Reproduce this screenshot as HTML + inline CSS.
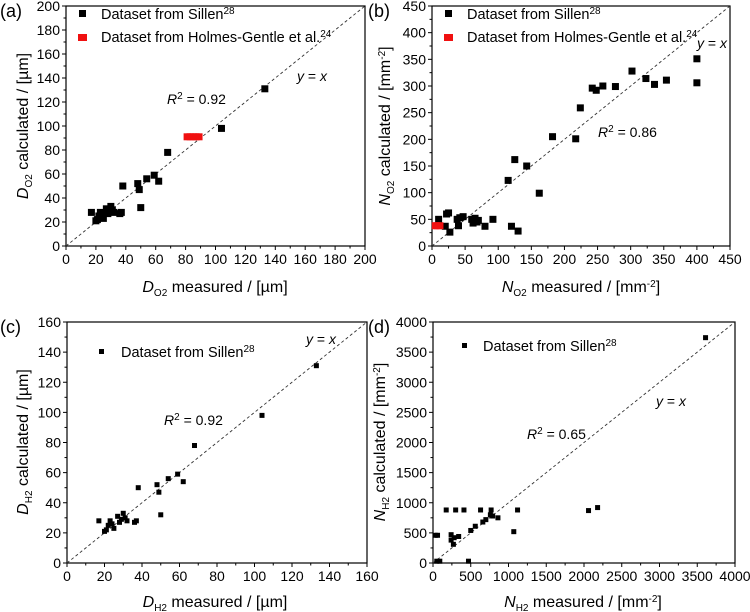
<!DOCTYPE html>
<html><head><meta charset="utf-8">
<style>
html,body{margin:0;padding:0;background:#fff;}
svg{display:block;font-family:"Liberation Sans",Arial,sans-serif;}
</style></head>
<body>
<svg id="fig" width="750" height="612" viewBox="0 0 750 612" xmlns="http://www.w3.org/2000/svg"></svg>
<script>
// ---- Data ----
const aBlackX=[17,20,21,22,23,24,25,27,28,29,30,31,32,36,37,38,48,49,50,54,59,62,68,104,133];
const aBlackY=[28,21,22,25,28,26,23,31,27,29,33,30,28,27,28,50,52,47,32,56,59,54,78,98,131];
const aRedX=[81,83,85,87,89];
const aRedY=[91,91,91,91,91];
const bBlackX=[10,20,22,25,27,38,40,42,47,60,62,65,68,70,80,92,115,120,125,130,143,162,182,217,224,242,248,258,277,302,323,336,354,400,400];
const bBlackY=[50,37,60,62,26,50,38,53,55,50,43,52,45,48,37,50,123,37,162,28,150,99,205,201,259,296,292,300,299,328,314,303,311,351,306];
const bRedX=[5,8,12];
const bRedY=[38,38,38];
const cBlackX=[17,20,21,22,23,24,25,27,28,29,30,31,32,36,37,38,48,49,50,54,59,62,68,104,133];
const cBlackY=[28,21,22,25,28,26,23,31,27,29,33,30,28,27,28,50,52,47,32,56,59,54,78,98,131];
const dBlackX=[30,60,50,90,175,240,240,270,280,300,340,410,470,500,560,630,660,700,760,770,790,860,1070,1120,2060,2180,3610];
const dBlackY=[460,460,30,30,880,470,380,310,420,880,440,880,30,540,610,880,680,720,800,880,780,750,520,880,870,920,3740];
const aTicks=[0,20,40,60,80,100,120,140,160,180,200];
const bTicks=[0,50,100,150,200,250,300,350,400,450];
const cTicks=[0,20,40,60,80,100,120,140,160];
const dTicks=[0,500,1000,1500,2000,2500,3000,3500,4000];

const NS="http://www.w3.org/2000/svg";
const svg=document.getElementById('fig');
function mk(tag,attrs,parent){const e=document.createElementNS(NS,tag);for(const k in attrs)e.setAttribute(k,attrs[k]);(parent||svg).appendChild(e);return e;}

function panel(o){
  const g=mk('g',{});
  
  
  const sx=v=>o.L+(v-o.min)/(o.max-o.min)*(o.R-o.L);
  const sy=v=>o.B-(v-o.min)/(o.max-o.min)*(o.B-o.T);
  const fr=mk('rect',{x:o.L,y:o.T,width:o.R-o.L,height:o.B-o.T,fill:'none',stroke:'#000','stroke-width':1.2},g);
  
  
  const dl=mk('line',{x1:sx(o.min),y1:sy(o.min),x2:sx(o.max),y2:sy(o.max),stroke:'#333','stroke-width':0.9,'stroke-dasharray':'3,2.5'},g);
  
  
  const t=o.ticks, step=t[1]-t[0];
  for(let i=0;i<t.length;i++){
    const v=t[i];
    mk('line',{x1:sx(v),y1:o.B,x2:sx(v),y2:o.B+4,stroke:'#000','stroke-width':1},g);
    mk('line',{x1:o.L,y1:sy(v),x2:o.L-4,y2:sy(v),stroke:'#000','stroke-width':1},g);
    if(i<t.length-1){
      const m=v+step/2;
      mk('line',{x1:sx(m),y1:o.B,x2:sx(m),y2:o.B+2.5,stroke:'#000','stroke-width':1},g);
      mk('line',{x1:o.L,y1:sy(m),x2:o.L-2.5,y2:sy(m),stroke:'#000','stroke-width':1},g);
    }
    const xl=mk('text',{x:sx(v),y:o.B+18,'font-size':14,'text-anchor':'middle'},g);
    xl.textContent=v;
    
    
    const yl=mk('text',{x:o.L-6,y:sy(v)+5,'font-size':14,'text-anchor':'end'},g);
    yl.textContent=v;
    
    
  }
  const ms=o.ms;
  for(let i=0;i<o.bx.length;i++){
    const r=mk('rect',{x:sx(o.bx[i])-ms/2,y:sy(o.by[i])-ms/2,width:ms,height:ms,fill:'#000'},g);
    
    
  }
  if(o.rx){
    for(let i=0;i<o.rx.length;i++){
      const r=mk('rect',{x:sx(o.rx[i])-ms/2,y:sy(o.ry[i])-ms/2,width:ms,height:ms,fill:'#f01010'},g);
      
      
    }
  }
  return g;
}
function html(g,x,y,content,size,anchor,name,rot){
  const tx=mk('text',{x:x,y:y,'font-size':size,'text-anchor':anchor||'start'},g);
  if(rot) tx.setAttribute('transform','rotate(-90 '+x+' '+y+')');
  tx.innerHTML=content;
  
  
  return tx;
}
const LF=14.5, AF=14, TF=16, PF=18;

const ga=panel({name:'panel-a',L:66,R:365,T:6,B:246,min:0,max:200,ticks:aTicks,bx:aBlackX,by:aBlackY,rx:aRedX,ry:aRedY,ms:7});
html(ga,0,17,'(a)',PF,'start','panel-label-a');
mk('rect',{x:79,y:10,width:7,height:7,fill:'#000'},ga);
html(ga,101,19,'Dataset from Sillen<tspan font-size="10" dy="-5">28</tspan>',LF,'start','legend-entry-sillen');
mk('rect',{x:78,y:34,width:9,height:7,fill:'#f01010'},ga);
html(ga,101,42,'Dataset from Holmes-Gentle et al.<tspan font-size="10" dy="-5">24</tspan>',LF,'start','legend-entry-holmes-gentle');
html(ga,297,81,'<tspan font-style="italic">y</tspan> = <tspan font-style="italic">x</tspan>',AF,'start','y-equals-x-label');
html(ga,167,104,'<tspan font-style="italic">R</tspan><tspan font-size="10" dy="-5">2</tspan><tspan dy="5"> = 0.92</tspan>',AF,'start','r-squared-label');
html(ga,215,292,'<tspan font-style="italic">D</tspan><tspan font-size="10" dy="4">O2</tspan><tspan dy="-4"> measured / [µm]</tspan>',TF,'middle','x-axis-title');
html(ga,28,126,'<tspan font-style="italic">D</tspan><tspan font-size="10" dy="4">O2</tspan><tspan dy="-4"> calculated / [µm]</tspan>',TF,'middle','y-axis-title',true);

const gb=panel({name:'panel-b',L:432,R:730,T:6,B:246,min:0,max:450,ticks:bTicks,bx:bBlackX,by:bBlackY,rx:bRedX,ry:bRedY,ms:7});
html(gb,368,17,'(b)',PF,'start','panel-label-b');
mk('rect',{x:445,y:10,width:7,height:7,fill:'#000'},gb);
html(gb,467,19,'Dataset from Sillen<tspan font-size="10" dy="-5">28</tspan>',LF,'start','legend-entry-sillen');
mk('rect',{x:444,y:34,width:9,height:7,fill:'#f01010'},gb);
html(gb,467,42,'Dataset from Holmes-Gentle et al.<tspan font-size="10" dy="-5">24</tspan>',LF,'start','legend-entry-holmes-gentle');
html(gb,697,48,'<tspan font-style="italic">y</tspan> = <tspan font-style="italic">x</tspan>',AF,'start','y-equals-x-label');
html(gb,598,137,'<tspan font-style="italic">R</tspan><tspan font-size="10" dy="-5">2</tspan><tspan dy="5"> = 0.86</tspan>',AF,'start','r-squared-label');
html(gb,581,292,'<tspan font-style="italic">N</tspan><tspan font-size="10" dy="4">O2</tspan><tspan dy="-4"> measured / [mm</tspan><tspan font-size="10" dy="-5">-2</tspan><tspan dy="5">]</tspan>',TF,'middle','x-axis-title');
html(gb,390,126,'<tspan font-style="italic">N</tspan><tspan font-size="10" dy="4">O2</tspan><tspan dy="-4"> calculated / [mm</tspan><tspan font-size="10" dy="-5">-2</tspan><tspan dy="5">]</tspan>',TF,'middle','y-axis-title',true);

const gc=panel({name:'panel-c',L:67,R:367,T:322,B:563,min:0,max:160,ticks:cTicks,bx:cBlackX,by:cBlackY,ms:5});
html(gc,0,333,'(c)',PF,'start','panel-label-c');
mk('rect',{x:99,y:349,width:5,height:5,fill:'#000'},gc);
html(gc,121,357,'Dataset from Sillen<tspan font-size="10" dy="-5">28</tspan>',LF,'start','legend-entry-sillen');
html(gc,306,344,'<tspan font-style="italic">y</tspan> = <tspan font-style="italic">x</tspan>',AF,'start','y-equals-x-label');
html(gc,164,425,'<tspan font-style="italic">R</tspan><tspan font-size="10" dy="-5">2</tspan><tspan dy="5"> = 0.92</tspan>',AF,'start','r-squared-label');
html(gc,215,607,'<tspan font-style="italic">D</tspan><tspan font-size="10" dy="4">H2</tspan><tspan dy="-4"> measured / [µm]</tspan>',TF,'middle','x-axis-title');
html(gc,28,442,'<tspan font-style="italic">D</tspan><tspan font-size="10" dy="4">H2</tspan><tspan dy="-4"> calculated / [µm]</tspan>',TF,'middle','y-axis-title',true);

const gd=panel({name:'panel-d',L:433,R:735,T:322,B:563,min:0,max:4000,ticks:dTicks,bx:dBlackX,by:dBlackY,ms:5});
html(gd,368,333,'(d)',PF,'start','panel-label-d');
mk('rect',{x:462,y:343,width:5,height:5,fill:'#000'},gd);
html(gd,483,351,'Dataset from Sillen<tspan font-size="10" dy="-5">28</tspan>',LF,'start','legend-entry-sillen');
html(gd,656,406,'<tspan font-style="italic">y</tspan> = <tspan font-style="italic">x</tspan>',AF,'start','y-equals-x-label');
html(gd,527,439,'<tspan font-style="italic">R</tspan><tspan font-size="10" dy="-5">2</tspan><tspan dy="5"> = 0.65</tspan>',AF,'start','r-squared-label');
html(gd,583,607,'<tspan font-style="italic">N</tspan><tspan font-size="10" dy="4">H2</tspan><tspan dy="-4"> measured / [mm</tspan><tspan font-size="10" dy="-5">-2</tspan><tspan dy="5">]</tspan>',TF,'middle','x-axis-title');
html(gd,385,442,'<tspan font-style="italic">N</tspan><tspan font-size="10" dy="4">H2</tspan><tspan dy="-4"> calculated / [mm</tspan><tspan font-size="10" dy="-5">-2</tspan><tspan dy="5">]</tspan>',TF,'middle','y-axis-title',true);
</script>
</body></html>
